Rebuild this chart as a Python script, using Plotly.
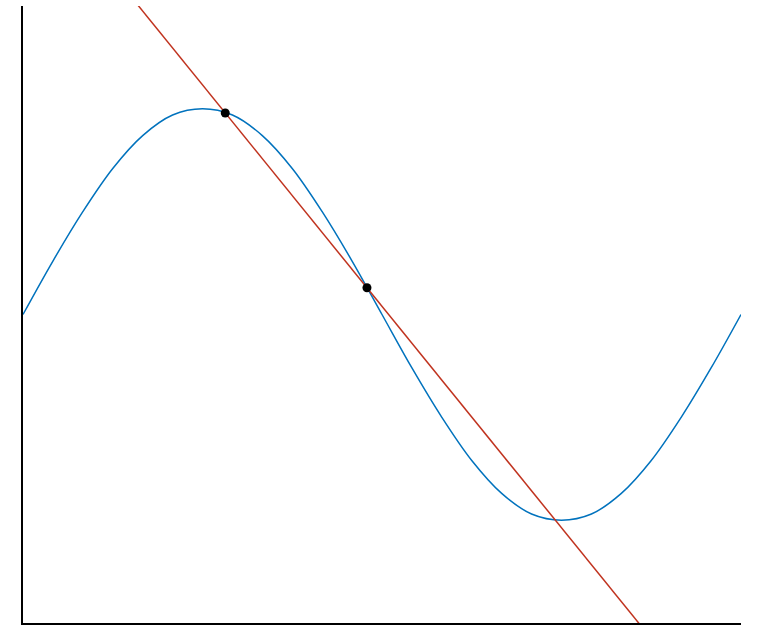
import numpy as np
import plotly.graph_objects as go

# curve readings at x = k*pi/12, k = 0..24
curve_x = [k * np.pi / 12 for k in range(25)]
curve_y = [0.0, 0.26, 0.5, 0.71, 0.87, 0.97, 1.0, 0.97, 0.87, 0.71, 0.5, 0.26,
           0.0, -0.26, -0.5, -0.71, -0.87, -0.97, -1.0, -0.97, -0.87, -0.71, -0.5, -0.26, 0.0]

# the two marked points
pts_x = [1.77, 3.01]
pts_y = [0.98, 0.13]

x_range = [0, 2 * np.pi]
y_range = [-1.5, 1.5]

slope = (pts_y[1] - pts_y[0]) / (pts_x[1] - pts_x[0])
line_x = [x_range[0], x_range[1]]
line_y = [pts_y[0] + slope * (xx - pts_x[0]) for xx in line_x]

fig = go.Figure()
fig.add_trace(go.Scatter(x=curve_x, y=curve_y, mode="lines",
                         line=dict(color="#0072BD", width=1.5, shape="spline"),
                         hoverinfo="skip"))
fig.add_trace(go.Scatter(x=line_x, y=line_y, mode="lines",
                         line=dict(color="#C0331F", width=1.5),
                         hoverinfo="skip"))
fig.add_trace(go.Scatter(x=pts_x, y=pts_y, mode="markers",
                         marker=dict(color="black", size=9),
                         hoverinfo="skip"))

fig.update_layout(
    width=758, height=626,
    margin=dict(l=23, r=17, t=6, b=3),
    paper_bgcolor="white", plot_bgcolor="white",
    showlegend=False,
    xaxis=dict(range=x_range, showgrid=False, zeroline=False, showticklabels=False,
               ticks="", showline=True, linecolor="black", linewidth=1.5),
    yaxis=dict(range=y_range, showgrid=False, zeroline=False, showticklabels=False,
               ticks="", showline=True, linecolor="black", linewidth=1.5),
)
fig.write_html("out.html", config={"displayModeBar": False},
               post_script="document.body.style.margin='0';")
